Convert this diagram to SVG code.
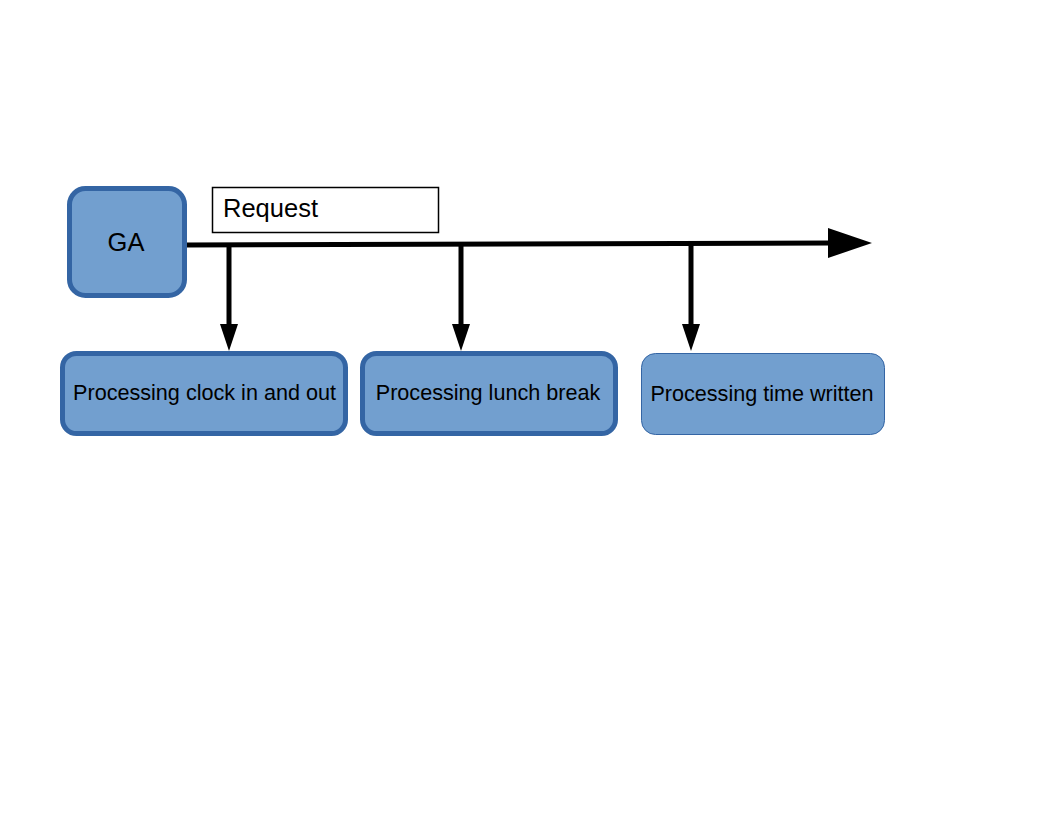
<svg xmlns="http://www.w3.org/2000/svg" width="1056" height="816" viewBox="0 0 1056 816">
<defs>
<style>
.thick{fill:#729fcf;stroke:#3465a4;stroke-width:5}
.thin{fill:#729fcf;stroke:#3465a4;stroke-width:1}
.lbl{font-family:"Liberation Sans",Arial,sans-serif;font-size:21.6px;fill:#000;text-anchor:middle}
.big{font-family:"Liberation Sans",Arial,sans-serif;font-size:25.5px;fill:#000}
.wire{stroke:#000;stroke-width:5;fill:none}
</style>
</defs>
<rect width="1056" height="816" fill="#fff"/>
<g id="connectors">
<line class="wire" x1="186" y1="245" x2="832" y2="243"/>
<polygon points="828,228 872,243 828,258" fill="#000"/>
<line class="wire" x1="229" y1="245" x2="229" y2="326"/>
<polygon points="220,324 238,324 229,351" fill="#000"/>
<line class="wire" x1="461" y1="244" x2="461" y2="326"/>
<polygon points="452,324 470,324 461,351" fill="#000"/>
<line class="wire" x1="691" y1="244" x2="691" y2="326"/>
<polygon points="682,324 700,324 691,351" fill="#000"/>
</g>
<g id="ga">
<rect class="thick" x="69.5" y="188.5" width="115" height="107" rx="16"/>
<text class="big" x="126" y="251" text-anchor="middle">GA</text>
</g>
<g id="request">
<rect x="212.5" y="187.5" width="226" height="45" fill="#fff" stroke="#000" stroke-width="1.5"/>
<text class="big" x="223" y="217">Request</text>
</g>
<g id="clock">
<rect class="thick" x="62.5" y="353.5" width="283" height="80" rx="14"/>
<text class="lbl" x="204.5" y="400">Processing clock in and out</text>
</g>
<g id="lunch">
<rect class="thick" x="362.5" y="353.5" width="253" height="80" rx="14"/>
<text class="lbl" x="488" y="400">Processing lunch break</text>
</g>
<g id="time">
<rect class="thin" x="641.5" y="353.5" width="243" height="81" rx="14"/>
<text class="lbl" x="762" y="401">Processing time written</text>
</g>
</svg>
